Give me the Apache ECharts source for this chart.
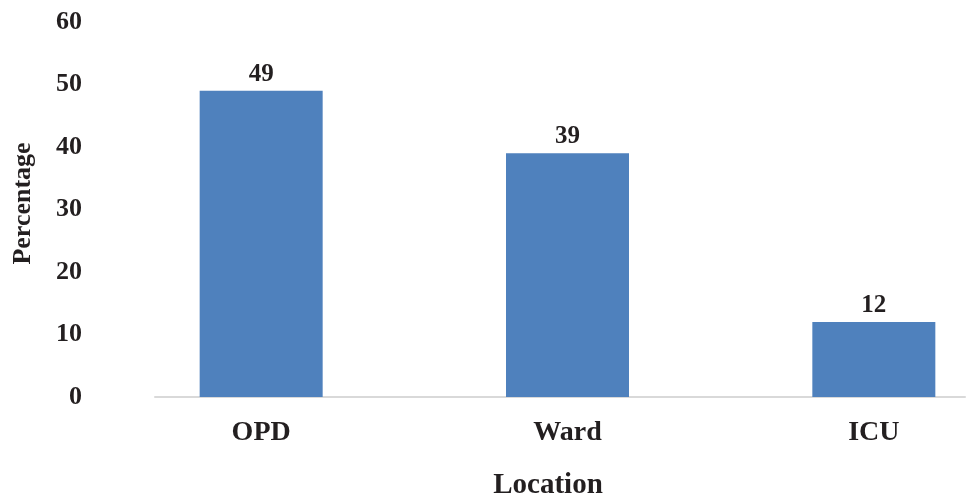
<!DOCTYPE html>
<html>
<head>
<meta charset="utf-8">
<script src="https://cdn.jsdelivr.net/npm/echarts@6/dist/echarts.min.js"></script>
<style>
  html, body { margin: 0; padding: 0; background: #fff; }
  #chart { width: 969px; height: 501px; }
</style>
</head>
<body>
<div id="chart"></div>
<script>
// Share of cases by location (%)
const categories = ['OPD', 'Ward', 'ICU'];
const percentages = [49, 39, 12];
const yTicks = { min: 0, max: 60, interval: 10 };

const font = '"Liberation Serif", "Times New Roman", serif';
const ink = '#231f20';

const chart = echarts.init(document.getElementById('chart'));
chart.setOption({
  backgroundColor: '#ffffff',
  animation: false,
  grid: [
    // plotting grid: category bands (runs past the right edge)
    { left: 108, top: 22, width: 919, bottom: 104, containLabel: false, outerBoundsMode: 'none' },
    // baseline grid: carries the visible horizontal axis line
    { left: 155, top: 22, right: 4, bottom: 104, containLabel: false, outerBoundsMode: 'none' }
  ],
  xAxis: [
    {
      type: 'category',
      gridIndex: 0,
      data: categories,
      axisLine: { show: false },
      axisTick: { show: false },
      axisLabel: {
        margin: 22,
        fontFamily: font, fontWeight: 'bold', fontSize: 28, color: ink
      }
    },
    {
      type: 'category',
      gridIndex: 1,
      data: categories,
      axisLine: { show: true, lineStyle: { color: '#d9d9d9', width: 2 } },
      axisTick: { show: false },
      axisLabel: { show: false },
      name: 'Location',
      nameLocation: 'middle',
      nameGap: 74,
      nameTextStyle: {
        fontFamily: font, fontWeight: 'bold', fontSize: 29, color: ink,
        padding: [0, 24, 0, 0]
      }
    }
  ],
  yAxis: [
    {
      type: 'value',
      gridIndex: 0,
      min: yTicks.min, max: yTicks.max, interval: yTicks.interval,
      axisLine: { show: false },
      axisTick: { show: false },
      splitLine: { show: false },
      axisLabel: {
        margin: 26,
        fontFamily: font, fontWeight: 'bold', fontSize: 26, color: ink
      },
      name: 'Percentage',
      nameLocation: 'middle',
      nameGap: 72,
      nameRotate: 90,
      nameTextStyle: {
        fontFamily: font, fontWeight: 'bold', fontSize: 26, color: ink,
        padding: [0, 0, 0, 12]
      }
    },
    {
      type: 'value',
      gridIndex: 1,
      min: yTicks.min, max: yTicks.max, interval: yTicks.interval,
      show: false
    }
  ],
  series: [
    {
      type: 'bar',
      xAxisIndex: 0,
      yAxisIndex: 0,
      data: percentages,
      barWidth: 123,
      itemStyle: { color: '#4f81bd' },
      label: {
        show: true,
        position: 'top',
        distance: 4,
        fontFamily: font, fontWeight: 'bold', fontSize: 25, color: ink
      }
    }
  ]
});
</script>
</body>
</html>
